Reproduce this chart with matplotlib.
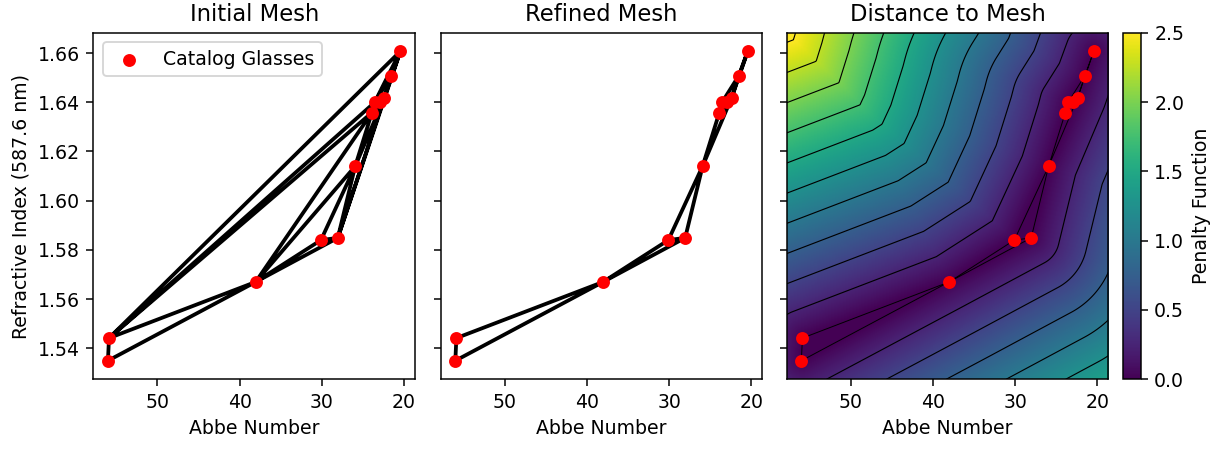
import numpy as np
import matplotlib.pyplot as plt
import matplotlib.tri as mtri

# catalog glasses
abbe = [56.03, 55.90, 38.04, 30.09, 28.04, 25.92, 23.88, 23.56, 22.95, 22.37, 21.52, 20.42]
nd = [1.5350, 1.5442, 1.5670, 1.5840, 1.5849, 1.6140, 1.6358, 1.6399, 1.6399, 1.6419, 1.6507, 1.6607]

# triangles kept after refinement (indices into the lists above)
refined_tris = [[0, 1, 2], [2, 3, 4], [3, 4, 5], [5, 6, 9], [6, 7, 8],
                [6, 8, 9], [7, 9, 10], [9, 10, 11]]

x = np.array(abbe)
y = np.array(nd)

# scale used for the distance (penalty) field
sx = 13.7
sy = 0.0458

# initial mesh: delaunay in normalised coordinates
xn = (x - x.mean()) / x.std()
yn = (y - y.mean()) / y.std()
tri_n = mtri.Triangulation(xn, yn)
initial = mtri.Triangulation(x, y, tri_n.triangles)
refined = mtri.Triangulation(x, y, refined_tris)

# axis limits with 5% margins
dx = x.max() - x.min()
dy = y.max() - y.min()
xl, xr = x.max() + 0.05 * dx, x.min() - 0.05 * dx
yb, yt = y.min() - 0.06 * dy, y.max() + 0.06 * dy

# penalty field = scaled distance to refined mesh
gx = np.linspace(xl, xr, 300)
gy = np.linspace(yb, yt, 300)
GX, GY = np.meshgrid(gx, gy)
px = GX.ravel() / sx
py = GY.ravel() / sy
dist = np.full(px.shape, np.inf)
for i, j in refined.edges:
    ax_, ay_ = x[i] / sx, y[i] / sy
    bx_, by_ = x[j] / sx, y[j] / sy
    vx, vy = bx_ - ax_, by_ - ay_
    t = ((px - ax_) * vx + (py - ay_) * vy) / (vx * vx + vy * vy)
    t = np.clip(t, 0, 1)
    d = np.hypot(px - (ax_ + t * vx), py - (ay_ + t * vy))
    dist = np.minimum(dist, d)
inside = refined.get_trifinder()(GX.ravel(), GY.ravel()) >= 0
dist[inside] = 0
pen = dist.reshape(GX.shape)

fig = plt.figure(figsize=(12.31 / 1.36, 4.5 / 1.36), dpi=136)
ax1 = fig.add_axes([0.0758, 0.1571, 0.2613, 0.7702])
ax2 = fig.add_axes([0.3580, 0.1571, 0.2613, 0.7702])
ax3 = fig.add_axes([0.6391, 0.1571, 0.2613, 0.7702])
cax = fig.add_axes([0.9125, 0.1571, 0.0144, 0.7702])

ax1.triplot(initial, 'k-', lw=2)
ax1.scatter(x, y, c='red', s=34, zorder=3, label='Catalog Glasses')
ax1.legend(loc='upper left')
ax1.set_title('Initial Mesh')
ax1.set_ylabel('Refractive Index (587.6 nm)')

ax2.triplot(refined, 'k-', lw=2)
ax2.scatter(x, y, c='red', s=34, zorder=3)
ax2.set_title('Refined Mesh')

im = ax3.imshow(pen, extent=(xl, xr, yb, yt), origin='lower', aspect='auto',
                cmap='viridis', vmin=0, vmax=2.5, interpolation='bilinear')
ax3.contour(GX, GY, pen, levels=np.arange(0.25, 2.51, 0.25), colors='k', linewidths=0.6)
ax3.triplot(refined, 'k-', lw=0.5)
ax3.scatter(x, y, c='red', s=34, zorder=3)
ax3.set_title('Distance to Mesh')

for ax in (ax1, ax2, ax3):
    ax.set_xlim(xl, xr)
    ax.set_ylim(yb, yt)
    ax.set_xticks([50, 40, 30, 20])
    ax.set_yticks([1.54, 1.56, 1.58, 1.60, 1.62, 1.64, 1.66])
    ax.set_xlabel('Abbe Number')
ax2.set_yticklabels([])
ax3.set_yticklabels([])

cb = fig.colorbar(im, cax=cax)
cb.set_label('Penalty Function')

plt.savefig('out.png', dpi=136)
